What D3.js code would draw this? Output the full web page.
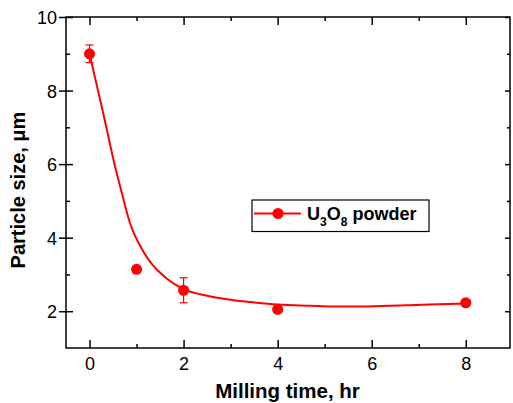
<!DOCTYPE html>
<html>
<head>
<meta charset="utf-8">
<script src="https://cdn.jsdelivr.net/npm/d3@7"></script>
<style>
  body { margin: 0; background: #fff; }
  text { font-family: Arial, "Liberation Sans", sans-serif; }
</style>
</head>
<body>
<div id="chart"></div>
<script>
'use strict';

// measured points: milling time (hr), particle size (um), error
var millTime = [0, 1, 2, 4, 8];
var particleSize = [9.0, 3.14, 2.57, 2.05, 2.23];
var sizeError = [0.24, 0, 0.34, 0, 0];

// fitted curve
var fitTime = [0, 0.26, 0.37, 0.51, 0.69, 0.86, 1.11, 1.29, 1.64, 2.0, 2.5, 3.0, 3.41, 4.02, 4.69, 5.19, 5.8, 6.39, 7.2, 8.0];
var fitSize = [9.0, 7.56, 6.93, 6.11, 5.2, 4.4, 3.7, 3.34, 2.89, 2.6, 2.42, 2.31, 2.25, 2.18, 2.15, 2.13, 2.13, 2.15, 2.18, 2.21];

var xTicks = [0, 2, 4, 6, 8];
var xMinor = [1, 3, 5, 7];
var yTicks = [2, 4, 6, 8, 10];
var yMinor = [3, 5, 7, 9];

var chart = {
  draw: function() {
    var w, h, pLeft, pRight, pTop, pBottom, red, svg, x, y, line, errs, lg, lt;

    w = 513;
    h = 403;
    pLeft = 66;
    pRight = 510;
    pTop = 17;
    pBottom = 348;
    red = '#ff0000';

    svg = d3.select('#chart')
      .append('svg')
      .attr('width', w)
      .attr('height', h);

    x = d3.scaleLinear().domain([-0.5, 8.94]).range([pLeft, pRight]);
    y = d3.scaleLinear().domain([1, 10]).range([pBottom, pTop]);

    function plain(g) {
      g.select('.domain').remove();
      g.selectAll('line').attr('stroke-width', 1.5);
    }

    // frame
    svg.append('rect')
      .attr('x', pLeft)
      .attr('y', pTop)
      .attr('width', pRight - pLeft)
      .attr('height', pBottom - pTop)
      .attr('fill', 'none')
      .attr('stroke', '#000')
      .attr('stroke-width', 1.5);

    // bottom axis, ticks inside
    svg.append('g')
      .attr('transform', 'translate(0,' + pBottom + ')')
      .call(d3.axisBottom(x).tickValues(xTicks).tickSizeInner(-8).tickSizeOuter(0).tickPadding(9))
      .call(function(g) {
        plain(g);
        g.selectAll('text').attr('font-size', 18).attr('fill', '#000');
      });
    svg.append('g')
      .attr('transform', 'translate(0,' + pBottom + ')')
      .call(d3.axisBottom(x).tickValues(xMinor).tickSizeInner(-4).tickSizeOuter(0).tickFormat(''))
      .call(plain);

    // top axis, ticks inside, no labels
    svg.append('g')
      .attr('transform', 'translate(0,' + pTop + ')')
      .call(d3.axisTop(x).tickValues(xTicks).tickSizeInner(-8).tickSizeOuter(0).tickFormat(''))
      .call(plain);
    svg.append('g')
      .attr('transform', 'translate(0,' + pTop + ')')
      .call(d3.axisTop(x).tickValues(xMinor).tickSizeInner(-4).tickSizeOuter(0).tickFormat(''))
      .call(plain);

    // left axis, major ticks cross the spine
    svg.append('g')
      .attr('transform', 'translate(' + pLeft + ',0)')
      .call(d3.axisLeft(y).tickValues(yTicks).tickSizeInner(7).tickSizeOuter(0).tickPadding(2))
      .call(function(g) {
        plain(g);
        g.selectAll('line').attr('x1', 7).attr('x2', -7);
        g.selectAll('text').attr('font-size', 18).attr('fill', '#000').attr('dy', '0.36em');
      });
    svg.append('g')
      .attr('transform', 'translate(' + pLeft + ',0)')
      .call(d3.axisLeft(y).tickValues(yMinor).tickSizeInner(-4).tickSizeOuter(0).tickFormat(''))
      .call(plain);

    // right axis, ticks inside
    svg.append('g')
      .attr('transform', 'translate(' + pRight + ',0)')
      .call(d3.axisRight(y).tickValues(yTicks).tickSizeInner(-5).tickSizeOuter(0).tickFormat(''))
      .call(plain);
    svg.append('g')
      .attr('transform', 'translate(' + pRight + ',0)')
      .call(d3.axisRight(y).tickValues(yMinor).tickSizeInner(-3).tickSizeOuter(0).tickFormat(''))
      .call(plain);

    // fitted curve
    line = d3.line()
      .x(function(d, i) { return x(fitTime[i]); })
      .y(function(d) { return y(d); })
      .curve(d3.curveMonotoneX);

    svg.append('path')
      .datum(fitSize)
      .attr('d', line)
      .attr('fill', 'none')
      .attr('stroke', red)
      .attr('stroke-width', 2);

    // error bars
    errs = svg.append('g').attr('stroke', red).attr('stroke-width', 1.2);
    millTime.forEach(function(t, i) {
      var e = sizeError[i], cx = x(t), hi, lo;
      if (!e) return;
      hi = y(particleSize[i] + e);
      lo = y(particleSize[i] - e);
      errs.append('line').attr('x1', cx).attr('x2', cx).attr('y1', hi).attr('y2', lo);
      errs.append('line').attr('x1', cx - 4).attr('x2', cx + 4).attr('y1', hi).attr('y2', hi);
      errs.append('line').attr('x1', cx - 4).attr('x2', cx + 4).attr('y1', lo).attr('y2', lo);
    });

    // points
    svg.append('g')
      .selectAll('circle')
      .data(particleSize)
      .join('circle')
      .attr('cx', function(d, i) { return x(millTime[i]); })
      .attr('cy', function(d) { return y(d); })
      .attr('r', 5.5)
      .attr('fill', red);

    // legend
    lg = svg.append('g');
    lg.append('rect')
      .attr('x', 252)
      .attr('y', 200)
      .attr('width', 177)
      .attr('height', 31.5)
      .attr('fill', '#fff')
      .attr('stroke', '#000')
      .attr('stroke-width', 1.2);
    lg.append('line')
      .attr('x1', 254).attr('x2', 301)
      .attr('y1', 213.5).attr('y2', 213.5)
      .attr('stroke', red)
      .attr('stroke-width', 2);
    lg.append('circle')
      .attr('cx', 278).attr('cy', 213.5)
      .attr('r', 5.5)
      .attr('fill', red);
    lt = lg.append('text')
      .attr('x', 307)
      .attr('y', 220)
      .attr('font-size', 18)
      .attr('font-weight', 'bold')
      .attr('fill', '#000');
    lt.append('tspan').text('U');
    lt.append('tspan').attr('font-size', 12).attr('dy', 6).text('3');
    lt.append('tspan').attr('dy', -6).text('O');
    lt.append('tspan').attr('font-size', 12).attr('dy', 6).text('8');
    lt.append('tspan').attr('dy', -6).text(' powder');

    // axis titles
    svg.append('text')
      .attr('x', 287.5)
      .attr('y', 398)
      .attr('text-anchor', 'middle')
      .attr('font-size', 20.5)
      .attr('font-weight', 'bold')
      .text('Milling time, hr');

    svg.append('text')
      .attr('transform', 'translate(25,190) rotate(-90)')
      .attr('text-anchor', 'middle')
      .attr('font-size', 20)
      .attr('font-weight', 'bold')
      .text('Particle size, μm');
  }
};

chart.draw();
</script>
</body>
</html>
